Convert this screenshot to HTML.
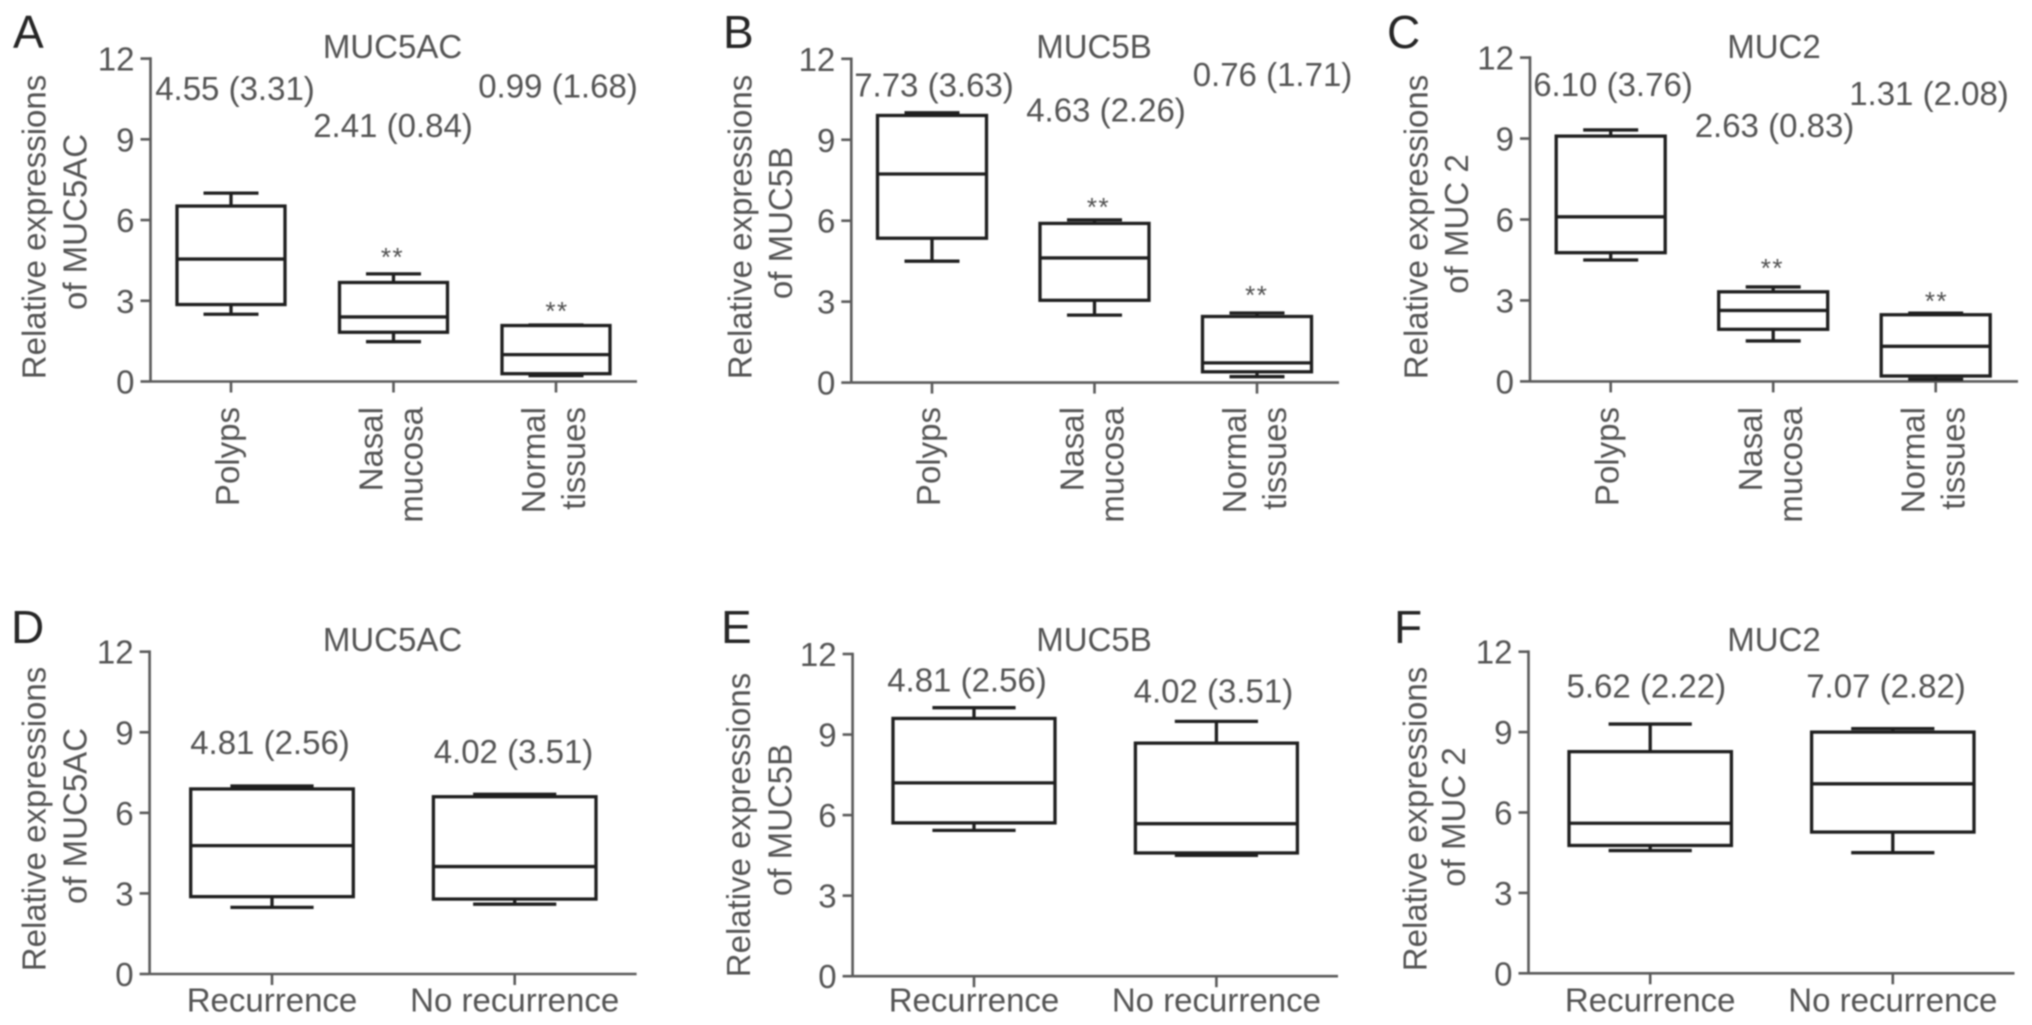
<!DOCTYPE html>
<html lang="en">
<head>
<meta charset="utf-8">
<title>Relative mucin expressions</title>
<style>
html,body{margin:0;padding:0;background:#fff;}
body{width:2032px;height:1025px;overflow:hidden;}
#figure{display:block;width:2032px;height:1025px;filter:blur(0.8px);}
text{font-family:"Liberation Sans",sans-serif;font-size:33px;fill:#545454;}
.letter{font-size:46px;fill:#262626;}
.mid{text-anchor:middle;}
.axis{stroke:#5a5a5a;stroke-width:2.6;fill:none;}
.mark{stroke:#1f1f1f;stroke-width:3.3;fill:none;}
.stars{font-size:26px;text-anchor:middle;fill:#505050;letter-spacing:1.5px;}
</style>
</head>
<body>
<svg id="figure" xmlns="http://www.w3.org/2000/svg" width="2032" height="1025" viewBox="0 0 2032 1025">
  <rect x="0" y="0" width="2032" height="1025" fill="#fff"/>

  <text class="letter" x="13" y="48">A</text>
  <text class="letter" x="723" y="48">B</text>
  <text class="letter" x="1387" y="48">C</text>
  <text class="letter" x="11" y="643">D</text>
  <text class="letter" x="721" y="643">E</text>
  <text class="letter" x="1394" y="643">F</text>

  <text class="mid" x="392.5" y="58">MUC5AC</text>
  <text class="mid" x="1094" y="58">MUC5B</text>
  <text class="mid" x="1774" y="58">MUC2</text>
  <text class="mid" x="392.5" y="651">MUC5AC</text>
  <text class="mid" x="1094" y="651">MUC5B</text>
  <text class="mid" x="1774" y="651">MUC2</text>

  <text class="mid" transform="translate(45.5 227) rotate(-90)">Relative expressions</text>
  <text class="mid" transform="translate(86.7 222) rotate(-90)">of MUC5AC</text>
  <text class="mid" transform="translate(751.5 227) rotate(-90)">Relative expressions</text>
  <text class="mid" transform="translate(792 223) rotate(-90)">of MUC5B</text>
  <text class="mid" transform="translate(1427.7 227) rotate(-90)">Relative expressions</text>
  <text class="mid" transform="translate(1468 224) rotate(-90)">of MUC 2</text>
  <text class="mid" transform="translate(45.5 819) rotate(-90)">Relative expressions</text>
  <text class="mid" transform="translate(86.7 816) rotate(-90)">of MUC5AC</text>
  <text class="mid" transform="translate(750 825) rotate(-90)">Relative expressions</text>
  <text class="mid" transform="translate(791.4 820) rotate(-90)">of MUC5B</text>
  <text class="mid" transform="translate(1426.4 819) rotate(-90)">Relative expressions</text>
  <text class="mid" transform="translate(1465 817) rotate(-90)">of MUC 2</text>

  <text class="mid" x="235" y="100">4.55 (3.31)</text>
  <text class="mid" x="393" y="137">2.41 (0.84)</text>
  <text class="mid" x="558" y="97.6">0.99 (1.68)</text>
  <text class="mid" x="934" y="96.5">7.73 (3.63)</text>
  <text class="mid" x="1106" y="121.4">4.63 (2.26)</text>
  <text class="mid" x="1272.5" y="86.2">0.76 (1.71)</text>
  <text class="mid" x="1613" y="95.9">6.10 (3.76)</text>
  <text class="mid" x="1774.5" y="137">2.63 (0.83)</text>
  <text class="mid" x="1929" y="105">1.31 (2.08)</text>
  <text class="mid" x="270" y="754">4.81 (2.56)</text>
  <text class="mid" x="513.5" y="763">4.02 (3.51)</text>
  <text class="mid" x="967" y="691.7">4.81 (2.56)</text>
  <text class="mid" x="1213.4" y="702.7">4.02 (3.51)</text>
  <text class="mid" x="1646.3" y="697.7">5.62 (2.22)</text>
  <text class="mid" x="1886" y="697.7">7.07 (2.82)</text>

  <text class="stars" x="392.5" y="266">**</text>
  <text class="stars" x="557" y="320">**</text>
  <text class="stars" x="1098.5" y="216">**</text>
  <text class="stars" x="1256.8" y="304">**</text>
  <text class="stars" x="1772.4" y="277">**</text>
  <text class="stars" x="1936.5" y="310">**</text>
</svg>

<script>
const yTickLabels = [0, 3, 6, 9, 12];
const categoriesTop = ["Polyps", "Nasal|mucosa", "Normal|tissues"];
const categoriesBottom = ["Recurrence", "No recurrence"];

const aHigh = [7.0, 4.0, 2.1];
const aQ3 = [6.52, 3.68, 2.08];
const aMedian = [4.55, 2.4, 1.0];
const aQ1 = [2.86, 1.83, 0.29];
const aLow = [2.5, 1.48, 0.22];

const bHigh = [10.0, 6.03, 2.58];
const bQ3 = [9.9, 5.9, 2.45];
const bMedian = [7.73, 4.62, 0.73];
const bQ1 = [5.35, 3.05, 0.4];
const bLow = [4.5, 2.5, 0.22];

const cHigh = [9.32, 3.5, 2.53];
const cQ3 = [9.09, 3.32, 2.47];
const cMedian = [6.1, 2.63, 1.3];
const cQ1 = [4.77, 1.93, 0.2];
const cLow = [4.5, 1.5, 0.08];

const dHigh = [7.0, 6.69];
const dQ3 = [6.89, 6.6];
const dMedian = [4.78, 4.0];
const dQ1 = [2.88, 2.79];
const dLow = [2.48, 2.6];

const eHigh = [10.0, 9.49];
const eQ3 = [9.6, 8.68];
const eMedian = [7.2, 5.68];
const eQ1 = [5.71, 4.59];
const eLow = [5.43, 4.5];

const fHigh = [9.3, 9.13];
const fQ3 = [8.27, 9.0];
const fMedian = [5.6, 7.07];
const fQ1 = [4.77, 5.27];
const fLow = [4.58, 4.5];

const svg = document.getElementById('figure');
const NS = 'http://www.w3.org/2000/svg';

function shape(parent, tag, cls) {
  const el = document.createElementNS(NS, tag);
  if (cls) el.setAttribute('class', cls);
  parent.appendChild(el);
  return el;
}

function segment(parent, cls, x1, y1, x2, y2) {
  const el = shape(parent, 'line', cls);
  el.setAttribute('x1', x1);
  el.setAttribute('y1', y1);
  el.setAttribute('x2', x2);
  el.setAttribute('y2', y2);
  return el;
}

function drawPanel(id, frame, cats, high, q3, median, q1, low) {
  const g = shape(svg, 'g');
  
  

  const maxTick = yTickLabels[yTickLabels.length - 1];
  const yScale = v => frame.y0 - (v / maxTick) * (frame.y0 - frame.yTop);
  const xScale = i => frame.first + i * frame.step;

  const yAxis = segment(g, 'axis', frame.axisX, frame.yTop - 1.3, frame.axisX, frame.y0);
  
  

  const xAxis = segment(g, 'axis', frame.axisX, frame.y0, frame.xEnd, frame.y0);
  
  

  yTickLabels.forEach(v => {
    const y = yScale(v);
    const tick = segment(g, 'axis', frame.axisX - 10, y, frame.axisX, y);
    
    

    const label = shape(g, 'text');
    label.setAttribute('x', frame.axisX - 16);
    label.setAttribute('y', y + 12);
    label.setAttribute('text-anchor', 'end');
    label.textContent = String(v);
    
    
  });

  cats.forEach((cat, i) => {
    const x = xScale(i);
    const tick = segment(g, 'axis', x, frame.y0, x, frame.y0 + 11);
    
    

    const lines = cat.split('|');
    lines.forEach((line, k) => {
      const label = shape(g, 'text');
      if (frame.rotated) {
        const shift = lines.length === 1 ? 8 : (k === 0 ? -11 : 29);
        label.setAttribute('transform', 'translate(' + (x + shift) + ' ' + frame.labelY + ') rotate(-90)');
        label.setAttribute('text-anchor', 'end');
      } else {
        label.setAttribute('x', x);
        label.setAttribute('y', frame.labelY);
        label.setAttribute('text-anchor', 'middle');
      }
      label.textContent = line;
      
      
    });

    const hiCap = segment(g, 'mark', x - frame.capHalf, yScale(high[i]), x + frame.capHalf, yScale(high[i]));
    
    

    const hiStem = segment(g, 'mark', x, yScale(high[i]), x, yScale(q3[i]));
    
    

    const loCap = segment(g, 'mark', x - frame.capHalf, yScale(low[i]), x + frame.capHalf, yScale(low[i]));
    
    

    const loStem = segment(g, 'mark', x, yScale(q1[i]), x, yScale(low[i]));
    
    

    const box = shape(g, 'rect', 'mark');
    box.setAttribute('x', x - frame.boxHalf);
    box.setAttribute('y', yScale(q3[i]));
    box.setAttribute('width', frame.boxHalf * 2);
    box.setAttribute('height', yScale(q1[i]) - yScale(q3[i]));
    
    

    const med = segment(g, 'mark', x - frame.boxHalf, yScale(median[i]), x + frame.boxHalf, yScale(median[i]));
    
    
  });
}

drawPanel('a', {axisX: 150.5, yTop: 58.6, y0: 381.5, xEnd: 637, first: 231, step: 162.5, boxHalf: 54, capHalf: 27.5, rotated: true, labelY: 407}, categoriesTop, aHigh, aQ3, aMedian, aQ1, aLow);
drawPanel('b', {axisX: 851.3, yTop: 58.8, y0: 382.6, xEnd: 1339, first: 932, step: 162.5, boxHalf: 54.5, capHalf: 27.5, rotated: true, labelY: 407}, categoriesTop, bHigh, bQ3, bMedian, bQ1, bLow);
drawPanel('c', {axisX: 1530, yTop: 57.6, y0: 381.4, xEnd: 2018, first: 1610.7, step: 162.5, boxHalf: 54.5, capHalf: 27.5, rotated: true, labelY: 407}, categoriesTop, cHigh, cQ3, cMedian, cQ1, cLow);
drawPanel('d', {axisX: 149.6, yTop: 651.7, y0: 974, xEnd: 636.6, first: 272, step: 242.7, boxHalf: 81.3, capHalf: 41.6, rotated: false, labelY: 1011.5}, categoriesBottom, dHigh, dQ3, dMedian, dQ1, dLow);
drawPanel('e', {axisX: 852.6, yTop: 654, y0: 976.2, xEnd: 1338, first: 974, step: 242.4, boxHalf: 81, capHalf: 41.6, rotated: false, labelY: 1011.5}, categoriesBottom, eHigh, eQ3, eMedian, eQ1, eLow);
drawPanel('f', {axisX: 1528.5, yTop: 651.7, y0: 973.3, xEnd: 2014.5, first: 1650.2, step: 242.6, boxHalf: 81.2, capHalf: 41.6, rotated: false, labelY: 1011.5}, categoriesBottom, fHigh, fQ3, fMedian, fQ1, fLow);
</script>
</body>
</html>
